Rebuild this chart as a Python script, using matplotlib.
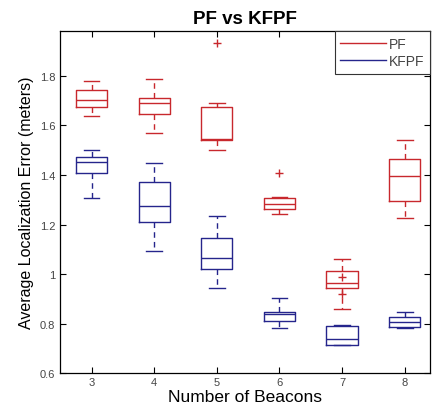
import matplotlib
matplotlib.use('Agg')
import matplotlib.pyplot as plt
from matplotlib.lines import Line2D

plt.rcParams['font.family'] = ['Liberation Sans', 'DejaVu Sans']

beacons = [3, 4, 5, 6, 7, 8]

# box statistics per beacon count: lower whisker, Q1, median, Q3, upper whisker
pf_lo = [1.639, 1.568, 1.500, 1.241, 0.859, 1.225]
pf_q1 = [1.675, 1.644, 1.541, 1.261, 0.943, 1.295]
pf_med = [1.702, 1.689, 1.545, 1.281, 0.963, 1.397]
pf_q3 = [1.742, 1.709, 1.675, 1.308, 1.013, 1.463]
pf_hi = [1.779, 1.785, 1.691, 1.312, 1.061, 1.541]
pf_out = [[], [], [1.931], [1.406], [0.990, 0.919], []]

kf_lo = [1.308, 1.093, 0.945, 0.781, 0.714, 0.784]
kf_q1 = [1.406, 1.212, 1.021, 0.812, 0.714, 0.788]
kf_med = [1.451, 1.275, 1.066, 0.838, 0.738, 0.808]
kf_q3 = [1.474, 1.373, 1.147, 0.849, 0.791, 0.828]
kf_hi = [1.500, 1.449, 1.236, 0.902, 0.793, 0.849]
kf_out = [[], [], [], [], [], []]

red = '#c8282d'
blue = '#25258c'


def stats(lo, q1, med, q3, hi, out):
    res = []
    for i in range(len(lo)):
        res.append({'whislo': lo[i], 'q1': q1[i], 'med': med[i], 'q3': q3[i],
                    'whishi': hi[i], 'fliers': out[i]})
    return res


def draw(ax, st, color):
    ax.bxp(st, positions=beacons, widths=0.5, showfliers=True,
           boxprops=dict(color=color, linewidth=1.0),
           medianprops=dict(color=color, linewidth=1.0),
           whiskerprops=dict(color=color, linewidth=1.0, linestyle=(0, (4, 3))),
           capprops=dict(color=color, linewidth=1.0),
           flierprops=dict(marker='+', markeredgecolor=color, markersize=6,
                           linestyle='none'),
           capwidths=0.25)


fig = plt.figure(figsize=(4.36, 4.06), dpi=100)
ax = fig.add_axes([0.138, 0.078, 0.848, 0.843])

draw(ax, stats(pf_lo, pf_q1, pf_med, pf_q3, pf_hi, pf_out), red)
draw(ax, stats(kf_lo, kf_q1, kf_med, kf_q3, kf_hi, kf_out), blue)

ax.set_xlim(2.5, 8.4)
ax.set_ylim(0.6, 1.98)
ax.set_xticks(beacons)
ax.set_xticklabels([str(b) for b in beacons])
ax.set_yticks([0.6, 0.8, 1.0, 1.2, 1.4, 1.6, 1.8])
ax.set_yticklabels(['0.6', '0.8', '1', '1.2', '1.4', '1.6', '1.8'])
ax.tick_params(direction='in', top=True, right=True, labelsize=8,
               labelcolor='#444444', length=4)
ax.tick_params(axis='x', pad=3)
for s in ax.spines.values():
    s.set_linewidth(0.9)

ax.set_title('PF vs KFPF', fontsize=13.5, fontweight='bold', pad=6)
ax.set_xlabel('Number of Beacons', fontsize=12.5, labelpad=1)
ax.set_ylabel('Average Localization Error (meters)', fontsize=11.5, labelpad=4)

handles = [Line2D([], [], color=red, lw=1.0), Line2D([], [], color=blue, lw=1.0)]
leg = ax.legend(handles, ['PF', 'KFPF'], loc='upper right', fontsize=10,
                fancybox=False, framealpha=1, edgecolor='#333333',
                handlelength=3.3, borderaxespad=0.0, labelspacing=0.25,
                handletextpad=0.2, borderpad=0.4)
leg.get_frame().set_linewidth(0.8)
for t in leg.get_texts():
    t.set_color('#444444')

fig.savefig('out.png', dpi=100)
